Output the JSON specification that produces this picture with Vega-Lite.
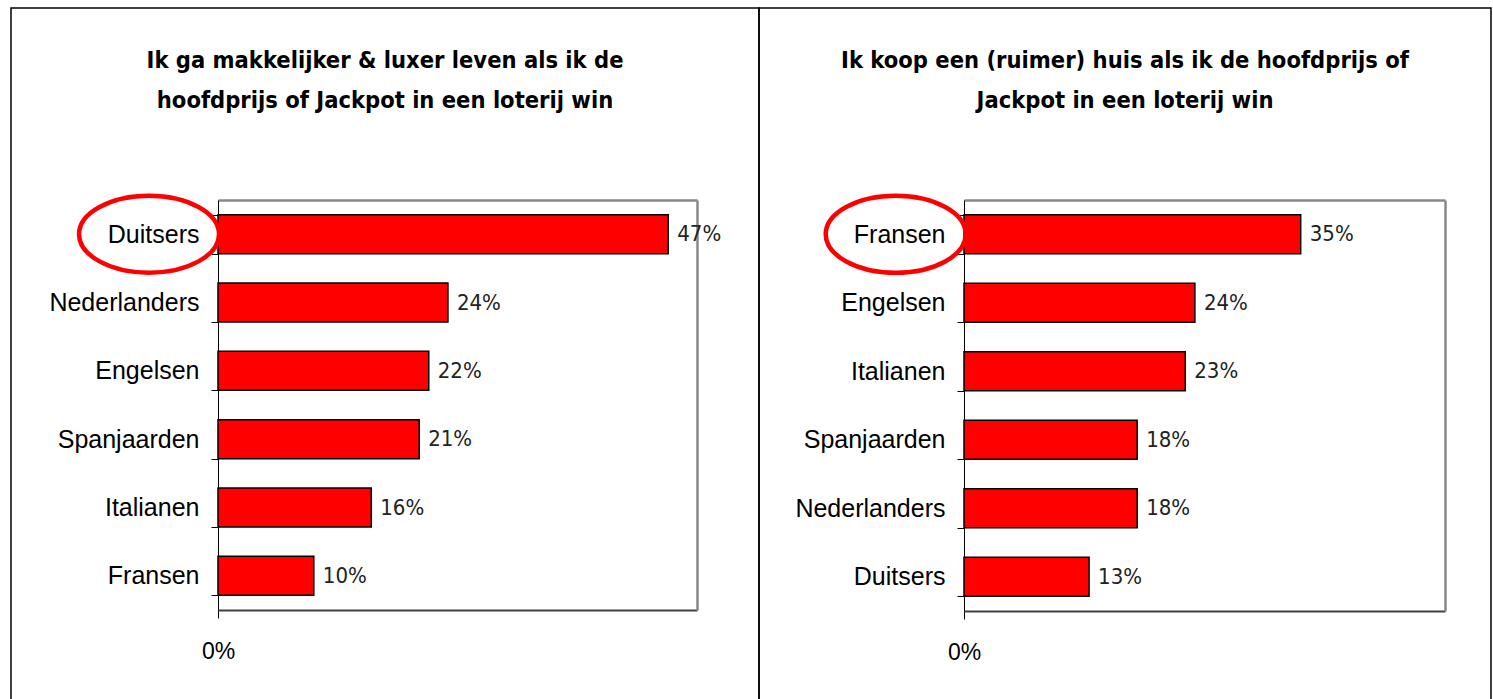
{
  "$schema": "https://vega.github.io/schema/vega-lite/v6.json",
  "padding": {"left": 10, "top": -5, "right": 0, "bottom": 0},
  "background": "white",
  "spacing": 0,
  "bounds": "flush",
  "datasets": {
    "makkelijker": [
      {"land": "Duitsers", "pct": 0.47, "omcirkeld": true},
      {"land": "Nederlanders", "pct": 0.24, "omcirkeld": false},
      {"land": "Engelsen", "pct": 0.22, "omcirkeld": false},
      {"land": "Spanjaarden", "pct": 0.21, "omcirkeld": false},
      {"land": "Italianen", "pct": 0.16, "omcirkeld": false},
      {"land": "Fransen", "pct": 0.10, "omcirkeld": false}
    ],
    "huis": [
      {"land": "Fransen", "pct": 0.35, "omcirkeld": true},
      {"land": "Engelsen", "pct": 0.24, "omcirkeld": false},
      {"land": "Italianen", "pct": 0.23, "omcirkeld": false},
      {"land": "Spanjaarden", "pct": 0.18, "omcirkeld": false},
      {"land": "Nederlanders", "pct": 0.18, "omcirkeld": false},
      {"land": "Duitsers", "pct": 0.13, "omcirkeld": false}
    ]
  },
  "config": {
    "view": {"stroke": "#000000", "strokeWidth": 1.5},
    "font": "Liberation Sans",
    "title": {"font": "'DejaVu Sans Condensed', 'Liberation Sans', sans-serif", "fontWeight": "bold", "fontSize": 23.5, "lineHeight": 40, "anchor": "middle", "frame": "group", "color": "#000000", "offset": -116}
  },
  "hconcat": [
    {
      "width": 748,
      "height": 692,
      "data": {"name": "makkelijker"},
      "title": {"text": ["Ik ga makkelijker & luxer leven als ik de", "hoofdprijs of Jackpot in een loterij win"]},
      "layer": [
        {
          "mark": {"type": "bar", "fill": "#FF0000", "stroke": "#000000", "strokeWidth": 1.5},
          "encoding": {
            "y": {"field": "land", "type": "nominal", "sort": ["Duitsers", "Nederlanders", "Engelsen", "Spanjaarden", "Italianen", "Fransen"],
                  "scale": {"range": [192, 602], "paddingInner": 0.43, "paddingOuter": 0.215},
                  "axis": {"orient": "left", "offset": -207, "title": null, "tickBand": "extent", "tickSize": 7, "tickColor": "#000000", "domainColor": "#000000", "labelFontSize": 25, "labelColor": "#000000", "labelPadding": 12, "labelFont": "Liberation Sans"}},
            "x": {"field": "pct", "type": "quantitative",
                  "scale": {"domain": [0, 0.5], "range": [207, 686], "nice": false},
                  "axis": {"orient": "bottom", "offset": -90, "title": null, "values": [0], "format": ".0%", "tickSize": 8, "tickColor": "#000000", "domainColor": "#404040", "domainWidth": 2, "labelFontSize": 23, "labelColor": "#000000", "labelPadding": 22, "labelFlush": false, "grid": false, "labelFont": "Liberation Sans"}}
          }
        },
        {
          "mark": {"type": "text", "align": "left", "baseline": "middle", "dx": 9, "font": "'DejaVu Sans Condensed', 'Liberation Sans', sans-serif", "fontSize": 22, "color": "#222222"},
          "encoding": {
            "y": {"field": "land", "type": "nominal", "sort": ["Duitsers", "Nederlanders", "Engelsen", "Spanjaarden", "Italianen", "Fransen"],
                  "axis": {"orient": "right", "offset": -62, "title": null, "labels": false, "ticks": false, "grid": false, "domainColor": "#888888", "domainWidth": 2.5}},
            "x": {"field": "pct", "type": "quantitative",
                  "axis": {"orient": "top", "offset": -192, "title": null, "labels": false, "ticks": false, "grid": false, "domainColor": "#888888", "domainWidth": 2.5}},
            "text": {"field": "pct", "type": "quantitative", "format": ".0%"}
          }
        },
        {
          "transform": [{"filter": "datum.omcirkeld"}],
          "mark": {"type": "point", "shape": "M -1 0 A 1 0.55 0 1 1 1 0 A 1 0.55 0 1 1 -1 0 Z", "size": 19600, "filled": false, "stroke": "#FF0000", "strokeWidth": 4.5, "opacity": 1},
          "encoding": {
            "y": {"field": "land", "type": "nominal", "sort": ["Duitsers", "Nederlanders", "Engelsen", "Spanjaarden", "Italianen", "Fransen"], "axis": null},
            "x": {"datum": -0.072, "type": "quantitative", "axis": null}
          }
        }
      ],
      "resolve": {"axis": {"x": "independent", "y": "independent"}}
    },
    {
      "width": 732,
      "height": 692,
      "data": {"name": "huis"},
      "title": {"text": ["Ik koop een (ruimer) huis als ik de hoofdprijs of", "Jackpot in een loterij win"]},
      "layer": [
        {
          "mark": {"type": "bar", "fill": "#FF0000", "stroke": "#000000", "strokeWidth": 1.5},
          "encoding": {
            "y": {"field": "land", "type": "nominal", "sort": ["Fransen", "Engelsen", "Italianen", "Spanjaarden", "Nederlanders", "Duitsers"],
                  "scale": {"range": [192, 603], "paddingInner": 0.43, "paddingOuter": 0.215},
                  "axis": {"orient": "left", "offset": -205, "title": null, "tickBand": "extent", "tickSize": 7, "tickColor": "#000000", "domainColor": "#000000", "labelFontSize": 25, "labelColor": "#000000", "labelPadding": 12, "labelFont": "Liberation Sans"}},
            "x": {"field": "pct", "type": "quantitative",
                  "scale": {"domain": [0, 0.5], "range": [205, 686], "nice": false},
                  "axis": {"orient": "bottom", "offset": -89, "title": null, "values": [0], "format": ".0%", "tickSize": 8, "tickColor": "#000000", "domainColor": "#404040", "domainWidth": 2, "labelFontSize": 23, "labelColor": "#000000", "labelPadding": 22, "labelFlush": false, "grid": false, "labelFont": "Liberation Sans"}}
          }
        },
        {
          "mark": {"type": "text", "align": "left", "baseline": "middle", "dx": 9, "font": "'DejaVu Sans Condensed', 'Liberation Sans', sans-serif", "fontSize": 22, "color": "#222222"},
          "encoding": {
            "y": {"field": "land", "type": "nominal", "sort": ["Fransen", "Engelsen", "Italianen", "Spanjaarden", "Nederlanders", "Duitsers"],
                  "axis": {"orient": "right", "offset": -46, "title": null, "labels": false, "ticks": false, "grid": false, "domainColor": "#888888", "domainWidth": 2.5}},
            "x": {"field": "pct", "type": "quantitative",
                  "axis": {"orient": "top", "offset": -192, "title": null, "labels": false, "ticks": false, "grid": false, "domainColor": "#888888", "domainWidth": 2.5}},
            "text": {"field": "pct", "type": "quantitative", "format": ".0%"}
          }
        },
        {
          "transform": [{"filter": "datum.omcirkeld"}],
          "mark": {"type": "point", "shape": "M -1 0 A 1 0.55 0 1 1 1 0 A 1 0.55 0 1 1 -1 0 Z", "size": 19600, "filled": false, "stroke": "#FF0000", "strokeWidth": 4.5, "opacity": 1},
          "encoding": {
            "y": {"field": "land", "type": "nominal", "sort": ["Fransen", "Engelsen", "Italianen", "Spanjaarden", "Nederlanders", "Duitsers"], "axis": null},
            "x": {"datum": -0.071, "type": "quantitative", "axis": null}
          }
        }
      ],
      "resolve": {"axis": {"x": "independent", "y": "independent"}}
    }
  ]
}
